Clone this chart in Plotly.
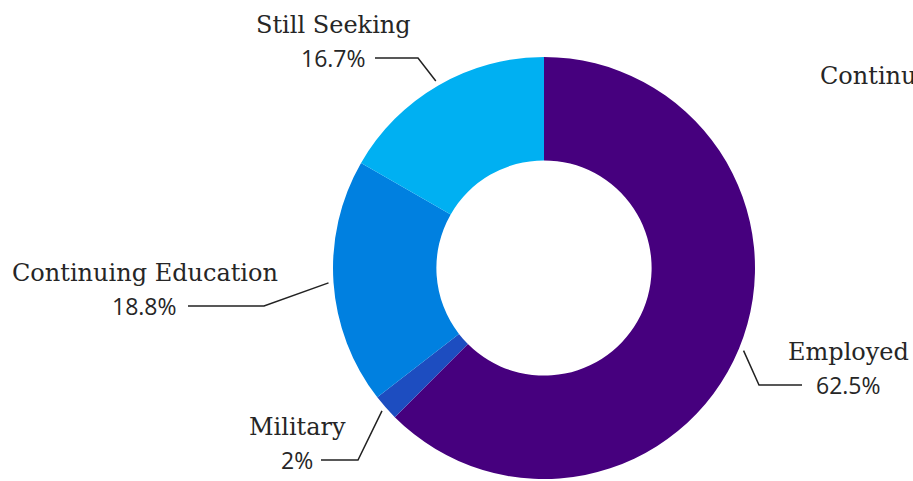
import math
import plotly.graph_objects as go

# Post-graduation outcomes
categories = ["Employed", "Military", "Continuing Education", "Still Seeking"]
shares = [62.5, 2, 18.8, 16.7]
pct_labels = ["62.5%", "2%", "18.8%", "16.7%"]
colors = ["#46007e", "#1d4dc0", "#0080e0", "#00b0f2"]

W, H = 913, 481
CX, CY, R = 544, 268, 211          # donut centre and outer radius (px)
HOLE = 0.51

# label block placement (px): centre x, value-line y, elbow x, line end x
label_layout = {
    "Employed":             (848, 385, 759, 802),
    "Military":             (297, 460, 358, 321),
    "Continuing Education": (144.5, 306, 264, 188),
    "Still Seeking":        (333.5, 58, 418, 375),
}


def px(x):
    return x / W


def py(y):
    return 1 - y / H


fig = go.Figure(go.Pie(
    labels=categories,
    values=shares,
    sort=False,
    direction="clockwise",
    rotation=0,
    hole=HOLE,
    marker=dict(colors=colors, line=dict(width=0)),
    textinfo="none",
    hoverinfo="label+percent",
    domain=dict(x=[px(CX - R), px(CX + R)], y=[py(CY + R), py(CY - R)]),
))

name_font = dict(family="DejaVu Serif", size=24, color="#262626")
pct_font = dict(family="Open Sans", size=23, color="#262626")

shapes, annotations = [], []
total = sum(shares)
start = 0.0
for name, val, pct in zip(categories, shares, pct_labels):
    mid = (start + val / 2) / total * 2 * math.pi   # clockwise from 12 o'clock
    start += val
    sx = CX + (R + 5) * math.sin(mid)
    sy = CY - (R + 5) * math.cos(mid)
    lx, ly, ex, endx = label_layout[name]
    shapes.append(dict(
        type="path", xref="paper", yref="paper",
        path=f"M {px(sx)} {py(sy)} L {px(ex)} {py(ly)} L {px(endx)} {py(ly)}",
        line=dict(color="#222222", width=1.5),
    ))
    annotations.append(dict(
        x=px(lx), y=py(ly - 33), xref="paper", yref="paper",
        text=name, showarrow=False, xanchor="center", yanchor="middle",
        font=name_font,
    ))
    annotations.append(dict(
        x=px(lx), y=py(ly), xref="paper", yref="paper",
        text=pct, showarrow=False, xanchor="center", yanchor="middle",
        font=pct_font,
    ))

annotations.append(dict(
    x=px(818), y=py(76), xref="paper", yref="paper",
    text="Continuing Education", showarrow=False,
    xanchor="left", yanchor="middle", font=name_font,
))

fig.update_layout(
    width=W, height=H,
    margin=dict(l=0, r=0, t=0, b=0),
    paper_bgcolor="white",
    plot_bgcolor="white",
    showlegend=False,
    shapes=shapes,
    annotations=annotations,
)

fig.write_html("out.html")
